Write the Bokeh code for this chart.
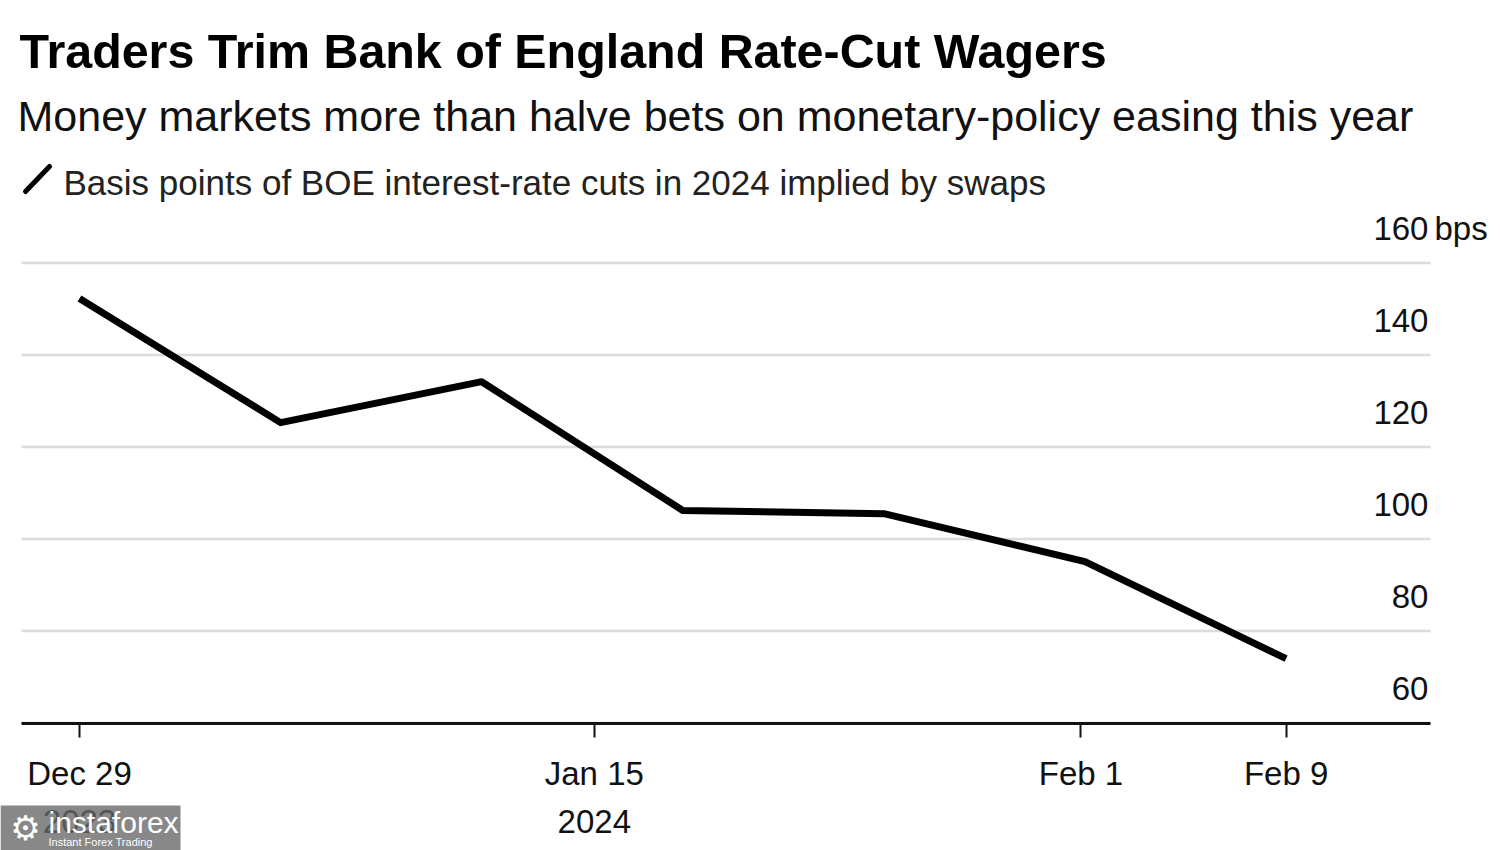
from bokeh.plotting import figure
from bokeh.models import (ColumnDataSource, FixedTicker, LabelSet, Range1d,
                          BoxAnnotation, PolyAnnotation, LinearAxis)
from bokeh.core.properties import value
from bokeh.embed import file_html
from bokeh.resources import INLINE

# ---------------- data ----------------
obs_dates = ["2023-12-29", "2024-01-05", "2024-01-12", "2024-01-19",
             "2024-01-26", "2024-02-02", "2024-02-09"]
cuts_bps = [152.3, 125.3, 134.2, 106.2, 105.5, 95.1, 74.0]
obs_index = list(range(len(obs_dates)))

x_tick_positions = [0, 2.56, 4.98, 6]
x_tick_labels = ["Dec 29\n2023", "Jan 15\n2024", "Feb 1", "Feb 9"]

y_ticks = [60, 80, 100, 120, 140, 160]
y_tick_labels = ["60", "80", "100", "120", "140", "160"]
y_unit = "bps"

title_text = "Traders Trim Bank of England Rate-Cut Wagers"
subtitle_text = "Money markets more than halve bets on monetary-policy easing this year"
legend_text = "Basis points of BOE interest-rate cuts in 2024 implied by swaps"
watermark_main = "instaforex"
watermark_sub = "Instant Forex Trading"

FONT = "Liberation Sans"

# plot-area extent (in data units along x) and full-canvas ranges
x_lo, x_hi = -0.2884, 6.718
x_start, x_end = -0.3928, 7.0662
y_start, y_end = 32.283, 217.07

p = figure(width=1500, height=850, output_backend="svg", toolbar_location=None,
           x_range=Range1d(x_start, x_end), y_range=Range1d(y_start, y_end),
           x_axis_location=None, y_axis_location=None,
           min_border=0, min_border_left=0, min_border_right=0,
           min_border_top=0, min_border_bottom=0)
p.outline_line_color = None
p.background_fill_color = "white"
p.border_fill_color = "white"
p.xgrid.visible = False
p.ygrid.visible = False

# horizontal gridlines
p.segment(x0=[x_lo] * len(y_ticks), x1=[x_hi] * len(y_ticks), y0=y_ticks, y1=y_ticks,
          line_color="#dcdcdc", line_width=2.5)

# x axis drawn at y = 60 inside the canvas
ax = LinearAxis(fixed_location=y_ticks[0], bounds=(x_lo, x_hi))
ax.ticker = FixedTicker(ticks=x_tick_positions)
ax.major_label_overrides = {k: v for k, v in zip(x_tick_positions, x_tick_labels)}
ax.major_label_text_font = FONT
ax.major_label_text_font_size = "33px"
ax.major_label_text_color = "#111111"
ax.major_label_text_line_height = 1.31
ax.major_label_standoff = 18
ax.axis_line_width = 3
ax.axis_line_color = "#111111"
ax.major_tick_line_width = 2
ax.major_tick_line_color = "#111111"
ax.major_tick_out = 14
ax.major_tick_in = 0
ax.minor_tick_out = 0
ax.minor_tick_in = 0
p.add_layout(ax, "below")

# data line
p.line(x=obs_index, y=cuts_bps, line_width=7, line_color="black", line_join="round")

# y labels inside plot, above gridlines
ysrc = ColumnDataSource(dict(x=[x_hi] * len(y_ticks), y=y_ticks, label=y_tick_labels))
p.add_layout(LabelSet(x="x", y="y", text="label", source=ysrc, text_align="right",
                      text_baseline="alphabetic", x_offset=-2, y_offset=23,
                      text_font=value(FONT), text_font_size=value("33px"),
                      text_color="#111111"))
usrc = ColumnDataSource(dict(x=[x_hi], y=[y_ticks[-1]], label=[y_unit]))
p.add_layout(LabelSet(x="x", y="y", text="label", source=usrc, text_align="left",
                      text_baseline="alphabetic", x_offset=4, y_offset=23,
                      text_font=value(FONT), text_font_size=value("33px"),
                      text_color="#111111"))


def screen_text(x, y, text, size, color="#111111", style="normal", font=FONT,
                align="left", baseline="alphabetic"):
    src = ColumnDataSource(dict(x=[x], y=[y], t=[text]))
    p.add_layout(LabelSet(x="x", y="y", text="t", source=src,
                          x_units="screen", y_units="screen",
                          text_font=value(font), text_font_size=value(size),
                          text_font_style=style, text_color=color,
                          text_align=align, text_baseline=baseline))


# headings (screen units, relative to canvas bottom-left)
screen_text(19, 783, title_text, "48.4px", color="black", style="bold")
screen_text(17, 720, subtitle_text, "43px")
screen_text(63, 656, legend_text, "35px", color="#222222")
p.add_layout(PolyAnnotation(xs=[25, 49], ys=[659, 684], xs_units="screen", ys_units="screen",
                            line_color="black", line_alpha=1.0, line_width=5,
                            fill_alpha=0, line_cap="round", line_join="round"))

# watermark
p.add_layout(BoxAnnotation(left=0, right=180, bottom=0, top=45,
                           left_units="screen", right_units="screen",
                           bottom_units="screen", top_units="screen",
                           fill_color="#686868", fill_alpha=0.79, line_color=None))
screen_text(25, 23, "\u2699", "34px", color="white", font="DejaVu Sans",
            align="center", baseline="middle")
screen_text(48, 18, watermark_main, "30px", color="white")
screen_text(48, 5, watermark_sub, "11px", color="white")

open("out.html", "w").write(file_html(p, INLINE))
